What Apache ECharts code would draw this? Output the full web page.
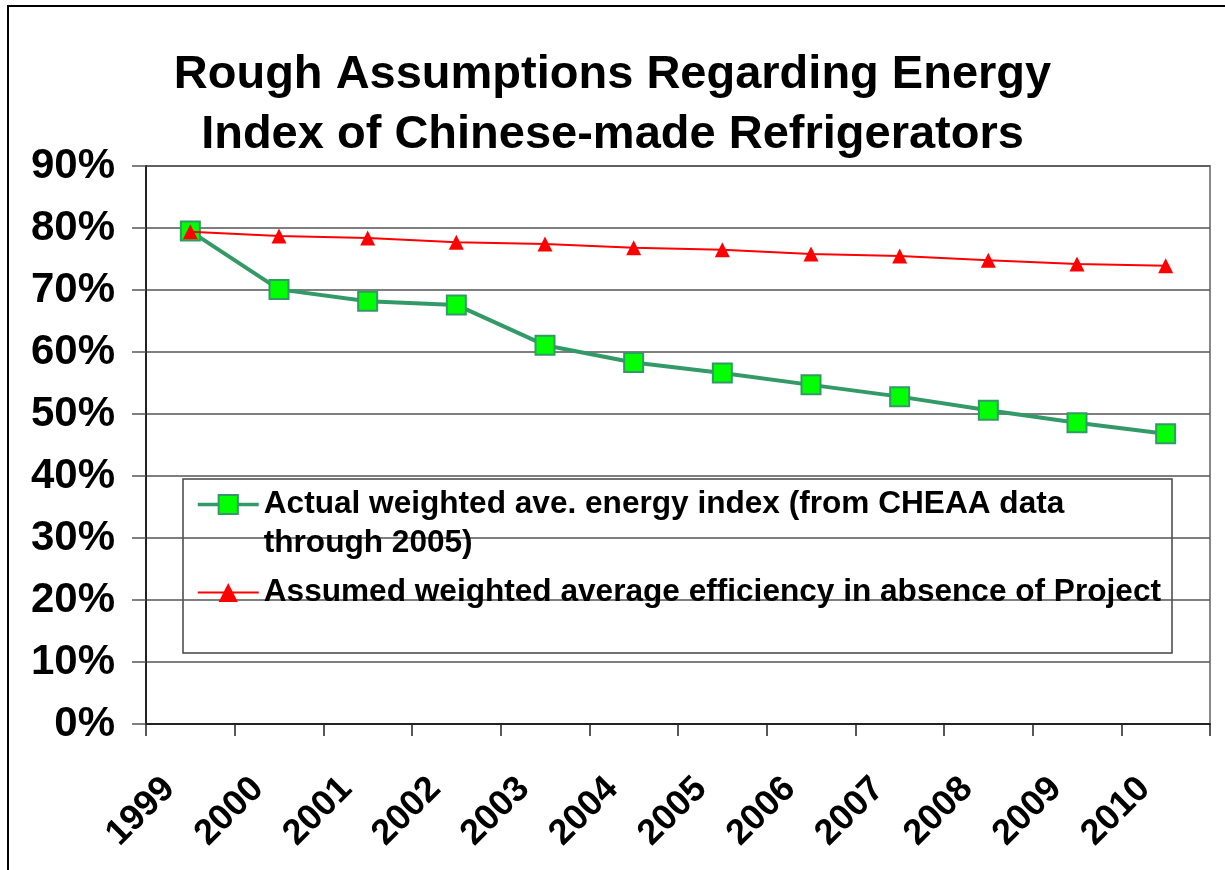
<!DOCTYPE html>
<html>
<head>
<meta charset="utf-8">
<script src="https://cdn.jsdelivr.net/npm/echarts@6/dist/echarts.min.js"></script>
<style>
  html, body { margin: 0; padding: 0; background: #fff; }
  #chart { width: 1225px; height: 870px; }
</style>
</head>
<body>
<div id="chart"></div>
<script>
const years = ["1999", "2000", "2001", "2002", "2003", "2004", "2005", "2006", "2007", "2008", "2009", "2010"];
const actualIndex = [79.5, 70.1, 68.2, 67.6, 61.1, 58.3, 56.6, 54.7, 52.8, 50.6, 48.6, 46.8];
const assumedIndex = [79.4, 78.7, 78.4, 77.7, 77.4, 76.8, 76.5, 75.8, 75.5, 74.8, 74.2, 73.9];
const actualName = "Actual weighted ave. energy index (from CHEAA data\nthrough 2005)";
const assumedName = "Assumed weighted average efficiency in absence of Project";

const FONT = "'Liberation Sans', Arial, sans-serif";
const chart = echarts.init(document.getElementById("chart"));

chart.setOption({
  backgroundColor: "#fff",
  animation: false,
  title: {
    text: "Rough Assumptions Regarding Energy\nIndex of Chinese-made Refrigerators",
    left: "center",
    top: 40,
    textStyle: { fontFamily: FONT, fontWeight: "bold", fontSize: 47, lineHeight: 60, color: "#000" },
  },
  grid: {
    left: 146, right: 15, top: 166, bottom: 146,
    show: true, borderColor: "#888", borderWidth: 2,
  },
  legend: {
    orient: "vertical",
    left: 196,
    top: 446,
    padding: 0,
    itemGap: 10,
    itemWidth: 61,
    itemHeight: 24,
    data: [
      { name: actualName, lineStyle: { width: 3.5 } },
      { name: assumedName, lineStyle: { width: 2 } },
    ],
    formatter: (name) => (name === actualName ? "\n" + name : name),
    textStyle: { fontFamily: FONT, fontWeight: "bold", fontSize: 31.6, lineHeight: 39, color: "#000" },
  },
  graphic: [
    { type: "rect", z: -1, shape: { x: 8, y: 6, width: 1300, height: 1000 }, style: { fill: "none", stroke: "#000", lineWidth: 2 } },
    { type: "rect", z: 0, shape: { x: 183, y: 479, width: 989, height: 174 }, style: { fill: "#fff", stroke: "#444", lineWidth: 1.5 } },
  ],
  xAxis: {
    type: "category",
    data: years,
    boundaryGap: true,
    axisLine: { lineStyle: { color: "#222", width: 2 } },
    axisTick: { show: true, length: 12, lineStyle: { color: "#222", width: 1.5 } },
    axisLabel: {
      rotate: 45, margin: 38, padding: [0, 30, 0, 0],
      fontFamily: FONT, fontWeight: "bold", fontSize: 36, color: "#000", interval: 0,
    },
  },
  yAxis: {
    type: "value",
    min: 0, max: 90, interval: 10,
    axisLine: { show: true, lineStyle: { color: "#222", width: 2 } },
    axisTick: { show: true, length: 14, lineStyle: { color: "#555", width: 1.5 } },
    axisLabel: {
      formatter: "{value}%", margin: 31, padding: [8, 0, 0, 0],
      fontFamily: FONT, fontWeight: "bold", fontSize: 42, color: "#000",
    },
    splitLine: { lineStyle: { color: "#555", width: 1.5 } },
  },
  series: [
    {
      name: actualName,
      type: "line",
      data: actualIndex,
      symbol: "rect",
      symbolSize: 19,
      lineStyle: { color: "#339966", width: 4 },
      itemStyle: { color: "#00ff00", borderColor: "#339966", borderWidth: 2 },
      z: 3,
    },
    {
      name: assumedName,
      type: "line",
      data: assumedIndex,
      symbol: "triangle",
      symbolSize: 15,
      lineStyle: { color: "#ff0000", width: 2 },
      itemStyle: { color: "#ff0000" },
      z: 4,
    },
  ],
});
</script>
</body>
</html>
